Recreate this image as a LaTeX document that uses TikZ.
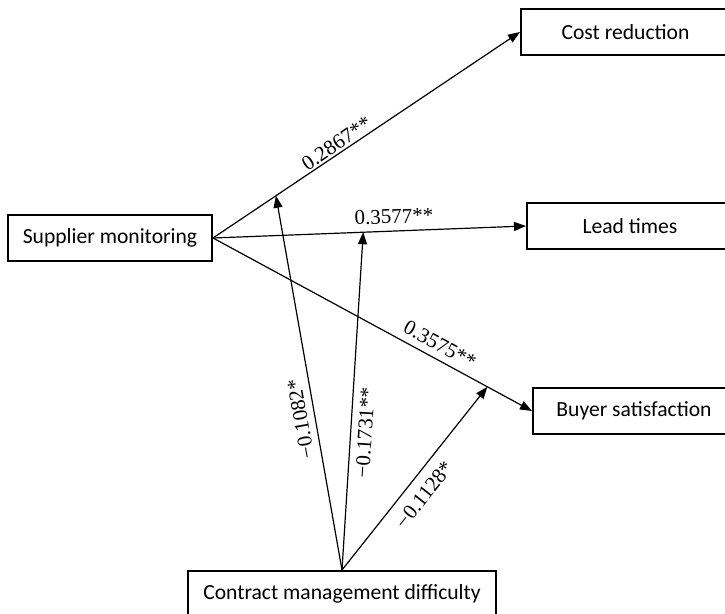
\documentclass[tikz,border=0pt]{standalone}
\usepackage{fontspec}
\setmainfont{Liberation Serif}
\newfontfamily\boxfont{Carlito}
\usetikzlibrary{arrows.meta}

\begin{document}
\begin{tikzpicture}[
    x=0.5pt, y=-0.5pt,
    block/.style={rectangle, draw, line width=1pt, minimum height=23pt, inner sep=0pt, font=\boxfont\fontsize{10.8}{13}\selectfont},
    line/.style={draw, line width=0.6pt, -{Triangle[length=6pt,width=4.5pt]}},
    coef/.style={font=\fontsize{10.5}{12}\selectfont, sloped}
  ]
    \useasboundingbox (0,0) rectangle (725,614);

    % Nodes - constructs
    \node [block, minimum width=102pt] (monitor) at (110,238) {Supplier monitoring};
    \node [block, minimum width=104.5pt] (cost) at (625.5,32) {Cost reduction};
    \node [block, minimum width=103pt] (lead) at (630,226) {Lead times};
    \node [block, minimum width=101pt] (buyer) at (634,411) {Buyer satisfaction};
    \node [block, minimum width=154pt] (difficulty) at (342,594) {Contract management difficulty};

    % Direct effects
    \path [line] (monitor.east) -- coordinate[pos=0.205] (modcost)
        node[coef, above, pos=0.42, inner sep=1pt] {0.2867**} (cost.west);
    \path [line] (monitor.east) -- coordinate[pos=0.48] (modlead)
        node[coef, above, pos=0.58] {0.3577**} (lead.west);
    \path [line] (monitor.east) -- coordinate[pos=0.86] (modbuyer)
        node[coef, above, pos=0.69] {0.3575**} (buyer.west);

    % Moderating effects
    \path [line] (difficulty.north) -- node[coef, allow upside down, above, pos=0.41] {−0.1082*} (modcost);
    \path [line] (difficulty.north) -- node[coef, below, pos=0.41] {−0.1731**} (modlead);
    \path [line] (difficulty.north) -- node[coef, below, pos=0.47, inner sep=5pt] {−0.1128*} (modbuyer);

\end{tikzpicture}
\end{document}
